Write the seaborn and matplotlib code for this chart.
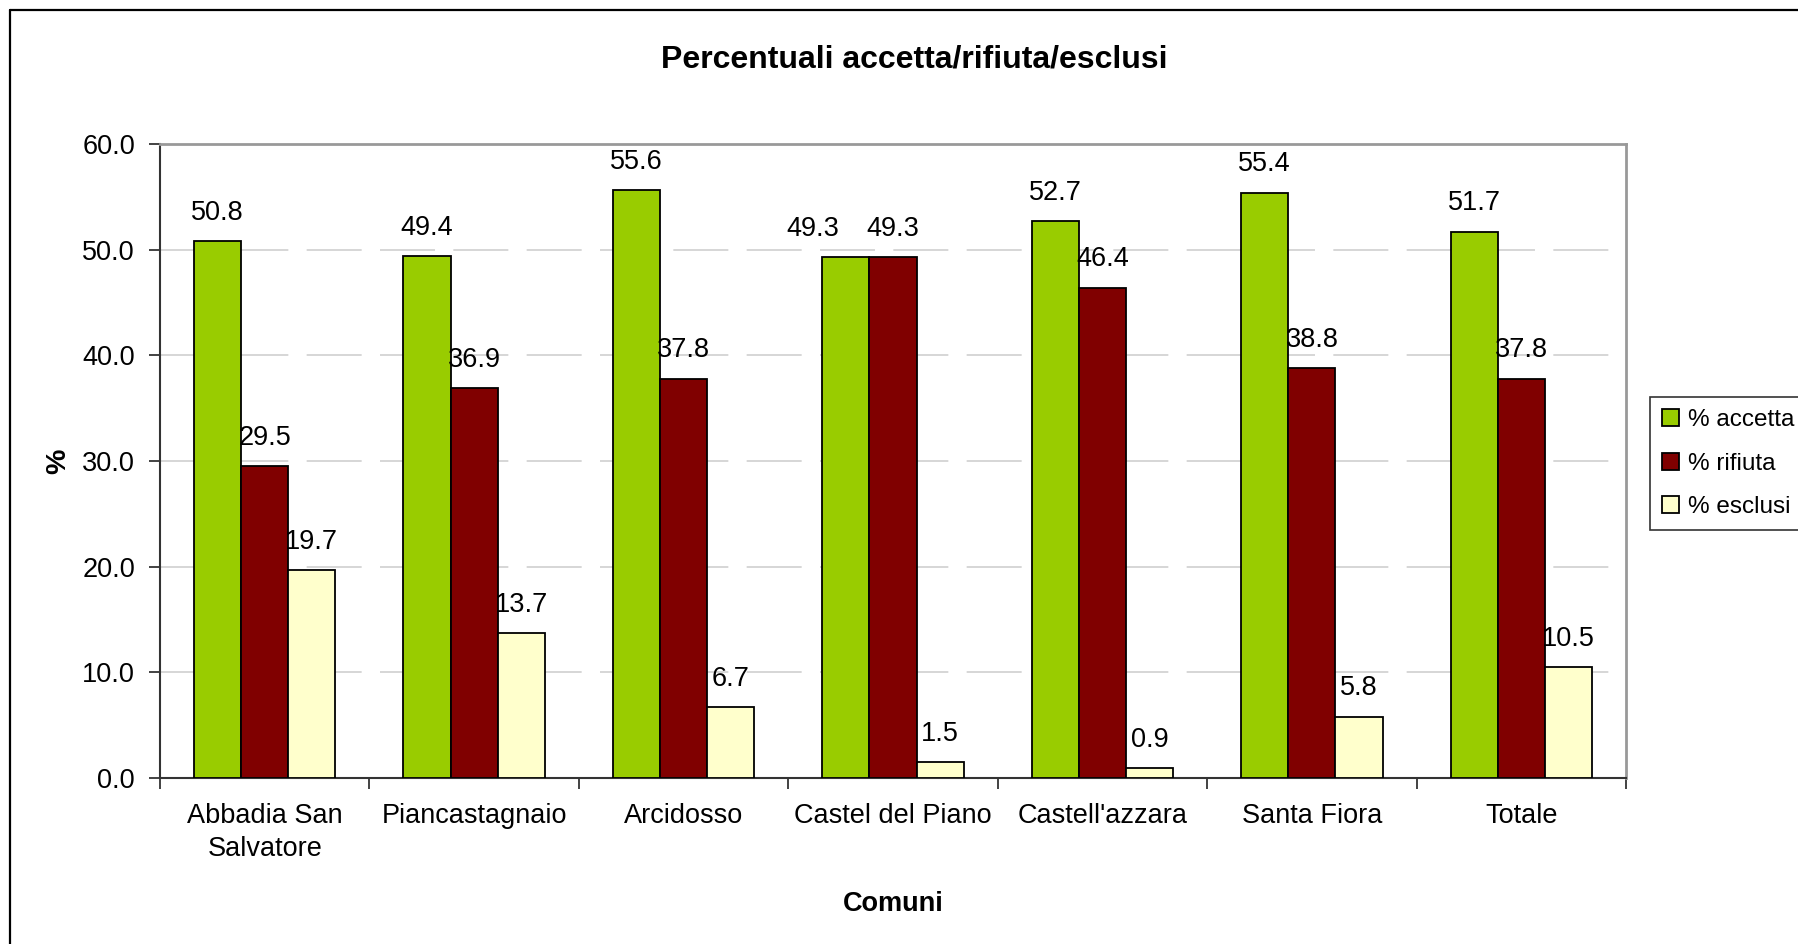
import matplotlib
matplotlib.use("Agg")
import matplotlib.pyplot as plt
import seaborn as sns
import pandas as pd
from matplotlib.lines import Line2D
from matplotlib.ticker import FixedLocator, FormatStrFormatter

comuni = ["Abbadia San\nSalvatore", "Piancastagnaio", "Arcidosso", "Castel del Piano",
          "Castell'azzara", "Santa Fiora", "Totale"]
serie = ["% accetta", "% rifiuta", "% esclusi"]
accetta = [50.8, 49.4, 55.6, 49.3, 52.7, 55.4, 51.7]
rifiuta = [29.5, 36.9, 37.8, 49.3, 46.4, 38.8, 37.8]
esclusi = [19.7, 13.7, 6.7, 1.5, 0.9, 5.8, 10.5]
colori = ["#99CC00", "#800000", "#FFFFCC"]
y_ticks = [0, 10, 20, 30, 40, 50, 60]

rows = []
for vals, s in zip([accetta, rifiuta, esclusi], serie):
    for c, v in zip(comuni, vals):
        rows.append({"Comune": c, "Serie": s, "Valore": v})
df = pd.DataFrame(rows)

sns.set_style("white")
plt.rcParams['font.family'] = ['Liberation Sans', 'DejaVu Sans']
plt.rcParams['text.color'] = 'black'
plt.rcParams['axes.labelcolor'] = 'black'
plt.rcParams['xtick.color'] = 'black'
plt.rcParams['ytick.color'] = 'black'

FS = 19.5

fig = plt.figure(figsize=(17.98, 9.44), dpi=100)
ax = fig.add_axes([160/1798, 1-778/944, (1626-160)/1798, (778-144)/944])

sns.barplot(data=df, x="Comune", y="Valore", hue="Serie", order=comuni, hue_order=serie,
            palette=colori, width=0.675, edgecolor="black", linewidth=1.3, ax=ax,
            saturation=1, errorbar=None, zorder=3)

for ci, cont in enumerate(ax.containers):
    texts = ax.bar_label(cont, fmt="%.1f", padding=11, fontsize=FS, color="black", zorder=4)
    if ci == 0:
        # the reference shifts the overlapping label of Castel del Piano to the left
        t = texts[3]
        t.xyann = (t.xyann[0] - 24, t.xyann[1])

ax.set_xlim(-0.5, 6.5)
ax.set_ylim(0, 60)
ax.set_yticks(y_ticks)
ax.yaxis.set_major_formatter(FormatStrFormatter("%.1f"))
ax.xaxis.set_minor_locator(FixedLocator([i - 0.5 for i in range(8)]))
ax.tick_params(axis="x", which="major", length=0, pad=18, labelsize=FS)
ax.tick_params(axis="x", which="minor", length=8, width=1.2, direction="out", color="#222222")
ax.tick_params(axis="y", length=8, width=1.2, direction="out", pad=10, labelsize=FS, color="#222222")
ax.yaxis.set_ticks_position("left")
ax.xaxis.set_ticks_position("bottom")
ax.tick_params(axis="x", which="minor", bottom=True)
for lbl in ax.get_xticklabels():
    lbl.set_linespacing(1.35)

for y in y_ticks[1:-1]:
    ax.axhline(y, color="#CFCFCF", linewidth=1.2, linestyle=(0, (33, 11)), zorder=1)

for side in ["left", "bottom"]:
    ax.spines[side].set_color("#333333")
    ax.spines[side].set_linewidth(1.5)
for side in ["top", "right"]:
    ax.spines[side].set_color("#999999")
    ax.spines[side].set_linewidth(2)
    ax.spines[side].set_visible(True)

ax.set_xlabel("Comuni", fontsize=FS, fontweight="bold", labelpad=21)
ax.set_ylabel("%", fontsize=FS + 1, fontweight="bold", labelpad=8)

fig.text(914/1798, 1-67/944, "Percentuali accetta/rifiuta/esclusi", ha="center", va="baseline",
         fontsize=23, fontweight="bold")

handles, labels = ax.get_legend_handles_labels()
ax.get_legend().remove()
leg = fig.legend(handles, labels, loc="upper left", bbox_to_anchor=(1650/1798, 1-397/944),
                 bbox_transform=fig.transFigure, fontsize=17.5, frameon=True, fancybox=False,
                 handlelength=0.7, handleheight=0.7, handletextpad=0.35, labelspacing=0.88,
                 borderpad=0.5, borderaxespad=0)
leg.get_frame().set_edgecolor("black")
leg.get_frame().set_linewidth(1.2)

fig.add_artist(Line2D([10/1798, 1.1], [1-10/944, 1-10/944], transform=fig.transFigure,
                      color="black", linewidth=1.6))
fig.add_artist(Line2D([10/1798, 10/1798], [1-10/944, -0.1], transform=fig.transFigure,
                      color="black", linewidth=1.6))

fig.savefig("out.png", dpi=100)
